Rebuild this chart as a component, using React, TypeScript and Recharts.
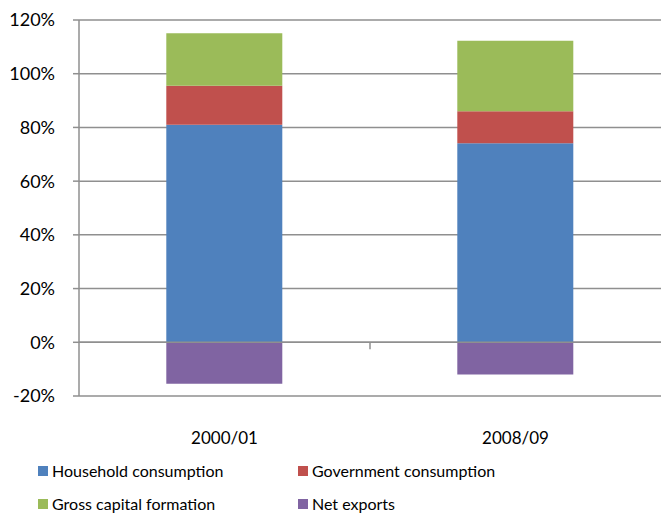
import {
  BarChart,
  Bar,
  XAxis,
  YAxis,
  CartesianGrid,
  Legend,
  ReferenceLine,
} from "recharts";

const periods = ["2000/01", "2008/09"];
const household = [81.0, 74.1];
const government = [14.5, 11.9];
const grossCapital = [19.6, 26.3];
const netExports = [-15.4, -12.0];
const yTicks = [-20, 0, 20, 40, 60, 80, 100, 120];

const series = [
  { key: "household", name: "Household consumption", color: "#4F81BD" },
  { key: "government", name: "Government consumption", color: "#C0504D" },
  { key: "gross", name: "Gross capital formation", color: "#9BBB59" },
  { key: "net", name: "Net exports", color: "#8064A2" },
];

const data = periods.map((p, i) => ({
  period: p,
  idx: i + 0.5,
  household: household[i],
  government: government[i],
  gross: grossCapital[i],
  net: netExports[i],
}));

const FONT = "Lato, 'Open Sans', sans-serif";
const GRID = "#8f8f8f";

function LegendBox() {
  return (
    <div
      style={{
        position: "relative",
        height: 75,
        width: 661,
        fontFamily: FONT,
        fontSize: 16,
        color: "#000",
      }}
    >
      {series.map((s, i) => {
        const col = i % 2;
        const row = Math.floor(i / 2);
        return (
          <div
            key={s.key}
            style={{
              position: "absolute",
              left: col === 0 ? 38 : 298,
              top: row === 0 ? 24 : 57,
              display: "flex",
              alignItems: "center",
              whiteSpace: "nowrap",
              lineHeight: "22px",
            }}
          >
            <span
              style={{
                display: "inline-block",
                width: 10,
                height: 10,
                background: s.color,
                marginRight: 4,
              }}
            />
            {s.name}
          </div>
        );
      })}
    </div>
  );
}

export default function App() {
  return (
    <div style={{ position: "absolute", left: 0, top: 0, background: "#fff" }}>
      <BarChart
        width={661}
        height={515}
        data={data}
        stackOffset="sign"
        barCategoryGap="30%"
        margin={{ top: 20, right: 0, left: 0, bottom: 4 }}
      >
        <CartesianGrid vertical={false} stroke={GRID} strokeWidth={1.5} />
        <XAxis
          dataKey="period"
          axisLine={false}
          tickLine={false}
          height={40}
          tickMargin={30}
          tick={{ fontSize: 17, fill: "#000", fontFamily: FONT }}
        />
        <XAxis
          xAxisId="num"
          type="number"
          dataKey="idx"
          domain={[0, 2]}
          hide
        />
        <YAxis
          domain={[-20, 120]}
          ticks={yTicks}
          width={79}
          interval={0}
          tickSize={6}
          tickMargin={18}
          tickFormatter={(v) => `${v}%`}
          axisLine={{ stroke: GRID, strokeWidth: 1.5 }}
          tickLine={{ stroke: GRID, strokeWidth: 1.5 }}
          tick={{ fontSize: 18, fill: "#000", fontFamily: FONT }}
        />
        <Legend
          verticalAlign="bottom"
          content={() => <LegendBox />}
          wrapperStyle={{ left: 0, width: 661 }}
        />
        {series.map((s) => (
          <Bar
            key={s.key}
            dataKey={s.key}
            name={s.name}
            stackId="a"
            fill={s.color}
            isAnimationActive={false}
          />
        ))}
        <ReferenceLine y={0} stroke={GRID} strokeWidth={1.5} />
        <ReferenceLine
          xAxisId="num"
          segment={[
            { x: 1, y: 0 },
            { x: 1, y: -2.6 },
          ]}
          stroke={GRID}
          strokeWidth={1.5}
        />
      </BarChart>
    </div>
  );
}
